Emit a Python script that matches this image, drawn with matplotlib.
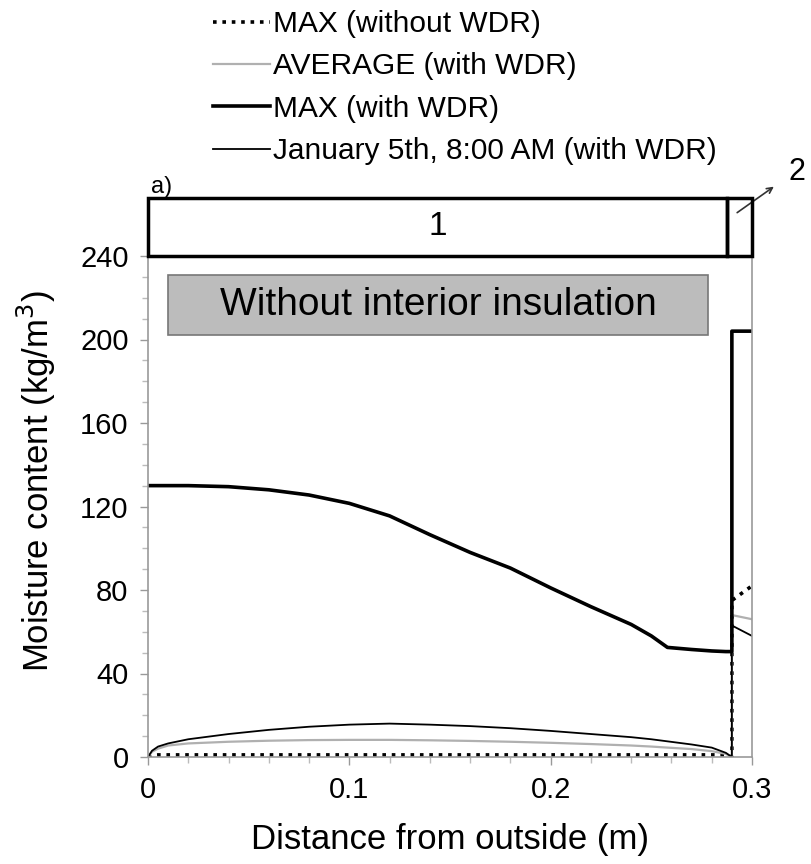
import matplotlib
matplotlib.use("Agg")
import matplotlib.pyplot as plt
from matplotlib.patches import Rectangle

plt.rcParams['font.family'] = ['Liberation Sans', 'DejaVu Sans']

# ---- data ----
x_layer1 = [0, 0.002, 0.005, 0.01, 0.02, 0.04, 0.06, 0.08, 0.10, 0.12, 0.14,
            0.16, 0.18, 0.20, 0.22, 0.24, 0.25, 0.258, 0.27, 0.28, 0.287, 0.29]
max_wdr_1 = [130, 130, 130, 130, 130, 129.5, 128, 125.5, 121.5, 115.5, 106.5,
             98, 90.5, 81, 72, 63.5, 58, 52.5, 51.5, 50.8, 50.5, 50.5]
jan5_1 = [0, 3, 5, 6.5, 8.5, 11, 13, 14.5, 15.5, 16, 15.5,
          14.8, 13.8, 12.5, 11, 9.5, 8.5, 7.5, 6, 4.5, 2, 0]
avg_1 = [0, 2.5, 4, 5.5, 6.5, 7.3, 7.8, 8.1, 8.2, 8.2, 8,
         7.7, 7.3, 6.8, 6.2, 5.5, 5, 4.5, 3.8, 2.8, 1.5, 0]
max_nowdr_1 = [0, 0.8, 1, 1, 1, 1, 1, 1, 1, 1, 1,
               1, 1, 1, 1, 1, 1, 1, 1, 1, 1, 0]

x_layer2 = [0.29, 0.3]
max_wdr_2 = [204, 204]
jan5_2 = [63, 58]
avg_2 = [68, 66]
max_nowdr_2 = [75, 82]

x_ticks = [0, 0.1, 0.2, 0.3]
x_tick_labels = ['0', '0.1', '0.2', '0.3']
y_ticks = [0, 40, 80, 120, 160, 200, 240]

labels = ['MAX (without WDR)', 'AVERAGE (with WDR)', 'MAX (with WDR)',
          'January 5th, 8:00 AM (with WDR)']

x_all = x_layer1 + x_layer2
max_wdr = max_wdr_1 + max_wdr_2
jan5 = jan5_1 + jan5_2
avg = avg_1 + avg_2
max_nowdr = max_nowdr_1 + max_nowdr_2

fig = plt.figure(figsize=(8.11, 8.64), dpi=100)
ax = fig.add_axes([148/811, 1-757/864, (752-148)/811, (757-256)/864])

l1, = ax.plot(x_all, max_nowdr, color='black', lw=2.6, linestyle=(0, (1, 1.6)),
              solid_capstyle='butt', dash_capstyle='butt')
l2, = ax.plot(x_all, avg, color='#b0b0b0', lw=1.6)
l3, = ax.plot(x_all, max_wdr, color='black', lw=2.6)
l4, = ax.plot(x_all, jan5, color='black', lw=1.3)

ax.set_xlim(0, 0.3)
ax.set_ylim(0, 240)
ax.set_xticks(x_ticks)
ax.set_xticklabels(x_tick_labels)
ax.set_yticks(y_ticks)
ax.set_xticks([i * 0.02 for i in range(16)], minor=True)
ax.set_yticks(list(range(0, 241, 10)), minor=True)
ax.tick_params(axis='both', which='major', labelsize=21, length=6, width=1,
               color='#999999', direction='out')
ax.tick_params(axis='x', which='major', pad=8)
ax.tick_params(axis='y', which='major', pad=8)
ax.tick_params(axis='both', which='minor', length=4, width=1, color='#bbbbbb',
               direction='out')
ax.tick_params(axis='y', which='both', right=False)
for s in ['left', 'bottom', 'right']:
    ax.spines[s].set_color('#999999')
    ax.spines[s].set_linewidth(1.2)
ax.spines['top'].set_visible(False)

ax.set_xlabel('Distance from outside (m)', fontsize=25)
ax.xaxis.set_label_coords(0.5, -(840 - 757) / 501, transform=ax.transAxes)
ax.xaxis.label.set_va('center')
ax.set_ylabel('Moisture content (kg/m$^3$)', fontsize=25)
ax.yaxis.set_label_coords(-(148 - 36) / 604, (757 - 481) / 501,
                          transform=ax.transAxes)
ax.yaxis.label.set_va('center')

# layer boxes above the plot
ax.add_patch(Rectangle((0, 240), 0.2875, 28, fill=False, edgecolor='black',
                       lw=2.5, clip_on=False, zorder=5))
ax.add_patch(Rectangle((0.2875, 240), 0.0125, 28, fill=False, edgecolor='black',
                       lw=2.5, clip_on=False, zorder=5))
ax.text(0.144, 254, '1', fontsize=24, ha='center', va='center')
ax.annotate('', xy=(0.312, 274), xytext=(0.2915, 260),
            arrowprops=dict(arrowstyle='->', color='#333333', lw=1.2),
            annotation_clip=False)
ax.text(0.3225, 280, '2', fontsize=22, ha='center', va='center')
fig.text(162/811, 1-187/864, 'a)', fontsize=17, ha='center', va='center')

# annotation box
ax.add_patch(Rectangle((0.01, 202), 0.268, 29, facecolor='#bcbcbc',
                       edgecolor='#777777', lw=1.2, zorder=3))
ax.text(0.144, 216.5, 'Without interior insulation', fontsize=28,
        ha='center', va='center', zorder=4)

fig.legend([l1, l2, l3, l4], labels, loc='upper left',
           bbox_to_anchor=(210/811, 1 - 7/864), frameon=False, fontsize=21.5,
           handlelength=1.9, handletextpad=0.1, labelspacing=0.48,
           borderaxespad=0.0, borderpad=0.1)

fig.savefig('out.png', dpi=100)
